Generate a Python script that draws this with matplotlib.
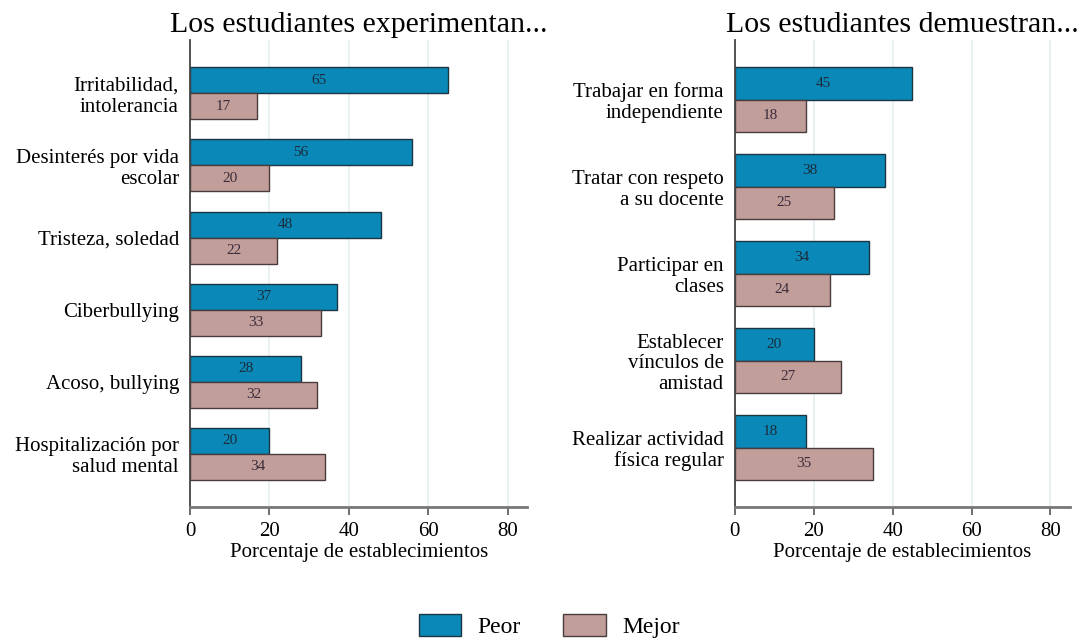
import numpy as np
import matplotlib.pyplot as plt
from matplotlib.patches import Patch

# Data
left_labels = [
    "Irritabilidad,\nintolerancia",
    "Desinterés por vida\nescolar",
    "Tristeza, soledad",
    "Ciberbullying",
    "Acoso, bullying",
    "Hospitalización por\nsalud mental",
]
left_peor = [65, 56, 48, 37, 28, 20]
left_mejor = [17, 20, 22, 33, 32, 34]

right_labels = [
    "Trabajar en forma\nindependiente",
    "Tratar con respeto\na su docente",
    "Participar en\nclases",
    "Establecer\nvínculos de\namistad",
    "Realizar actividad\nfísica regular",
]
right_peor = [45, 38, 34, 20, 18]
right_mejor = [18, 25, 24, 27, 35]

BLUE = "#0a89b8"
PINK = "#c19e99"

plt.rcParams["font.family"] = ["Liberation Serif", "DejaVu Serif"]


def draw_panel(ax, labels, peor, mejor, title, bar_h, pad):
    n = len(labels)
    y = np.arange(n)
    b1 = ax.barh(y - bar_h / 2, peor, height=bar_h, color=BLUE,
                 edgecolor="#1d3540", linewidth=1.0)
    b2 = ax.barh(y + bar_h / 2, mejor, height=bar_h, color=PINK,
                 edgecolor="#4a3c3c", linewidth=1.0)
    ax.bar_label(b1, labels=[f"{v:.0f}" for v in peor], label_type="center",
                 fontsize=11, color="#1c2c3c")
    ax.bar_label(b2, labels=[f"{v:.0f}" for v in mejor], label_type="center",
                 fontsize=11, color="#3c2c3c")
    ax.set_yticks(y)
    ax.set_yticklabels(labels, fontsize=15, ha="right", linespacing=1.12)
    ax.tick_params(axis="y", length=0, pad=8)
    ax.set_ylim(n - 1 + bar_h + pad, -bar_h - pad)
    ax.set_xlim(0, 85)
    ax.set_xticks([0, 20, 40, 60, 80])
    ax.tick_params(axis="x", labelsize=15, length=6, width=1.2, color="#555555",
                   pad=5)
    ax.set_xlabel("Porcentaje de establecimientos", fontsize=15, labelpad=1)
    ax.grid(axis="x", color="#e6eff1", linewidth=1.2)
    ax.set_axisbelow(True)
    for s in ["top", "right"]:
        ax.spines[s].set_visible(False)
    ax.spines["left"].set_color("#444444")
    ax.spines["left"].set_linewidth(1.3)
    ax.spines["bottom"].set_color("#777777")
    ax.spines["bottom"].set_linewidth(2.0)
    ax.set_title(title, fontsize=21.5, pad=6)


fig = plt.figure(figsize=(10.92, 6.4), dpi=100)
ax1 = fig.add_axes([0.174, 0.208, 0.309, 0.729])
ax2 = fig.add_axes([0.673, 0.208, 0.307, 0.729])

draw_panel(ax1, left_labels, left_peor, left_mejor,
           "Los estudiantes experimentan...", 0.36, 0.375)
draw_panel(ax2, right_labels, right_peor, right_mejor,
           "Los estudiantes demuestran...", 0.37, 0.31)

handles = [
    Patch(facecolor=BLUE, edgecolor="#1d3540", label="Peor"),
    Patch(facecolor=PINK, edgecolor="#4a3c3c", label="Mejor"),
]
fig.legend(handles=handles, loc="lower center", ncol=2, frameon=False,
           fontsize=17, handlelength=1.8, handleheight=1.1, columnspacing=1.8,
           handletextpad=0.7, bbox_to_anchor=(0.503, -0.03))

fig.savefig("out.png", dpi=100, facecolor="white")
